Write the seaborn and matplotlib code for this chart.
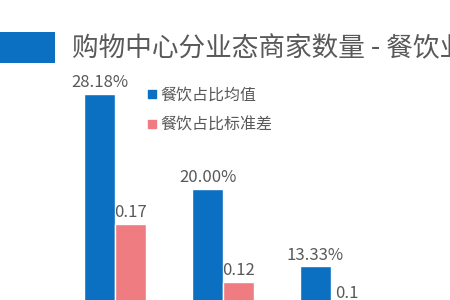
import matplotlib
matplotlib.use("Agg")
import matplotlib.pyplot as plt
from matplotlib.patches import Rectangle
from matplotlib.lines import Line2D
import seaborn as sns
import pandas as pd

# data (x labels are cropped away in the reference)
categories = ["类别一", "类别二", "类别三"]
mean_share = [0.2818, 0.2000, 0.1333]   # 餐饮占比均值
std_share = [0.17, 0.12, 0.1]           # 餐饮占比标准差
series = ["餐饮占比均值", "餐饮占比标准差"]
colors = ["#0b6fc2", "#ee7c80"]
title = "购物中心分业态商家数量 - 餐饮业"

sns.set_theme(style="white")
plt.rcParams["font.family"] = ["Noto Sans CJK SC", "DejaVu Sans"]
text_color = "#595959"

df = pd.DataFrame({
    "类别": categories * 2,
    "系列": [series[0]] * len(categories) + [series[1]] * len(categories),
    "值": mean_share + std_share,
})

fig = plt.figure(figsize=(4.5, 3), dpi=100)
# chart is cropped: the zero line sits below the bottom edge
ax = fig.add_axes([0, -121 / 300, 1, 348 / 300])
sns.barplot(data=df, x="类别", y="值", hue="系列", palette=colors,
            width=0.574, ax=ax, legend=False, saturation=1)
ax.set_ylim(0, 0.30)
ax.set_xlim(-115 / 108, 335 / 108)
ax.axis("off")

for cont, fmt in zip(ax.containers, ["{:.2%}", "{:g}"]):
    labels = [fmt.format(v) for v in cont.datavalues]
    ax.bar_label(cont, labels=labels, padding=2, fontsize=12, color=text_color)

# blue block + title
fig.add_artist(Rectangle((0, 1 - 63 / 300), 55 / 450, 31 / 300,
                         transform=fig.transFigure, color=colors[0], lw=0))
fig.text(72 / 450, 1 - 49 / 300, title, fontsize=19.2, color=text_color,
         va="center", ha="left")

handles = [Line2D([], [], marker="s", ls="", markersize=5.5, color=c) for c in colors]
fig.legend(handles, series, loc="upper left", bbox_to_anchor=(147 / 450, 1 - 87 / 300),
           frameon=False, fontsize=11.5, labelcolor=text_color, handlelength=0.6,
           handletextpad=0.25, labelspacing=0.8, borderaxespad=0, borderpad=0)

fig.savefig("out.png", dpi=100, facecolor="white")
